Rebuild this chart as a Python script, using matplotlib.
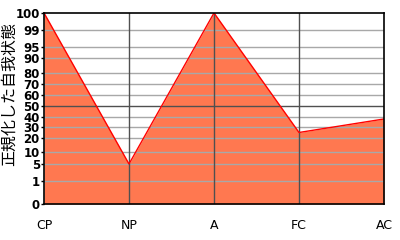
import numpy as np
import matplotlib
matplotlib.use('Agg')
import matplotlib.pyplot as plt

# datos
categorias = ['CP', 'NP', 'A', 'FC', 'AC']
valores = [100, 5, 100, 25, 38]

# escala del eje y (valor -> posicion relativa)
marcas = [0, 1, 5, 10, 20, 30, 40, 50, 60, 70, 80, 90, 95, 99, 100]
posiciones = [0, 23, 40, 52, 66, 77, 87, 98, 109, 120, 131, 146, 157, 174, 191]


def adelante(v):
    return np.interp(v, marcas, posiciones)


def atras(p):
    return np.interp(p, posiciones, marcas)


fig = plt.figure(figsize=(4, 2.4), dpi=100)
ax = fig.add_axes([0.11, 0.15, 0.85, 0.796])

x = np.arange(len(categorias))
ax.fill_between(x, valores, 0, color='#ff7850', zorder=1, linewidth=0)
ax.plot(x, valores, color='red', linewidth=1, zorder=4)

ax.set_yscale('function', functions=(adelante, atras))
ax.set_ylim(0, 100)
ax.set_xlim(0, len(categorias) - 1)

ax.set_yticks(marcas)
ax.set_yticklabels([str(m) for m in marcas], fontsize=8.5, fontweight='bold')
ax.set_xticks(x)
ax.set_xticklabels(categorias, fontsize=9)
ax.tick_params(axis='x', length=0, pad=11)
ax.tick_params(axis='y', length=2, width=1, pad=1)

# lineas de referencia
for m in marcas[1:-1]:
    color = '#505050' if m == 50 else '#a8a8a8'
    ax.axhline(m, color=color, linewidth=1, zorder=2)
for xi in x[1:-1]:
    ax.axvline(xi, color='#505050', linewidth=1, zorder=3)

for s in ax.spines.values():
    s.set_linewidth(1.2)
    s.set_zorder(5)

ax.set_ylabel('正規化した自我状態', family=['Noto Sans CJK JP', 'DejaVu Sans'], fontsize=11.5)
ax.yaxis.set_label_coords(-0.076, 0.576)

fig.savefig('out.png', dpi=100)
